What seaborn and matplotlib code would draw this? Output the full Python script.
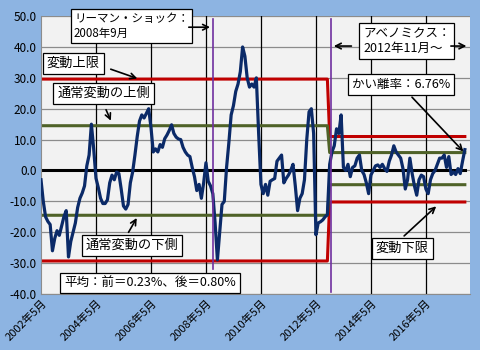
import numpy as np
import pandas as pd
import seaborn as sns
import matplotlib.pyplot as plt
from matplotlib.patches import Rectangle

plt.rcParams['font.family'] = ['Noto Sans CJK JP', 'DejaVu Sans']

# monthly deviation rate (%), 2002/5 .. 2017/10
START = "2002-05"
VALUES = [
    -3, -10, -15, -16.5, -17.5, -26, -22, -19.5, -21, -18,
    -15, -13, -28, -23, -20, -17, -12, -9, -7.3, -5,
    1.5, 5, 15, 7, -2.5, -5.5, -9, -10.7, -10.7, -9.5,
    -4, -1.5, -3, -0.5, -1, -6, -11.5, -12.5, -11, -4,
    -0.5, 5, 11, 16, 18, 17, 18.5, 20, 14, 6,
    7, 6, 8.4, 7.5, 10.3, 11.5, 13, 14.8, 12, 10.8,
    10.2, 10, 7.5, 6, 5, 4.5, 1, -2, -6.5, -4.5,
    -9, -4, 2.5, -3.5, -5, -7.5, -17, -29, -20, -11,
    -10, 1, 9, 18, 21, 25.6, 28, 32, 40, 37,
    30, 27, 28, 27, 30, 12, -4.5, -7.5, -4.5, -8,
    -3.5, -3, -2.6, 3, 4, 5, -4, -2.6, -1.5, 0,
    2, -5, -13, -9, -7.5, -3, 10, 19, 20, 12,
    -20.8, -17, -16.6, -16, -15, -14.3, 2, 6, 8, 13.5,
    12, 18, 1, 0, 2, -2, 1, 1.5, 4, 5,
    0, -1.3, -4, -7.5, -1.5, 0, 1.5, 1.8, 1, 2,
    0.6, -0.3, 3, 5, 8, 6, 5, 4, 0.6, -6,
    -3, 4, -1, -5, -8, -3, -1.5, -2, -6, -7.5,
    -3, -1, 0, 2, 4, 4, 5, 1, 4.5, -1.3,
    -0.5, -1.3, 0.6, -1, 3, 6.76,
]

# band levels before / after Abenomics
BEFORE_LEVELS = {"upper_lim": 29.6, "upper": 14.5, "lower": -14.5, "lower_lim": -29.3}
AFTER_LEVELS = {"upper_lim": 11.0, "upper": 5.8, "lower": -4.6, "lower_lim": -10.2}
LEHMAN = "2008-09"
ABENOMICS = "2012-11"

TICK_LABELS = ["2002年5月", "2004年5月", "2006年5月", "2008年5月",
               "2010年5月", "2012年5月", "2014年5月", "2016年5月"]

months = pd.period_range(START, periods=len(VALUES), freq="M")
idx = np.arange(len(VALUES))
lehman_i = (pd.Period(LEHMAN, "M") - months[0]).n
abe_i = (pd.Period(ABENOMICS, "M") - months[0]).n

df = pd.DataFrame({"i": idx, "rate": VALUES})
for k in BEFORE_LEVELS:
    df[k] = np.where(df.i < abe_i, BEFORE_LEVELS[k], AFTER_LEVELS[k])
df["zero"] = 0.0

BLUE_BG = "#8DB4E2"
fig = plt.figure(figsize=(4.8, 3.6), dpi=100, facecolor="white")
fig.patches.append(Rectangle((0, 10 / 360), 1, 1, transform=fig.transFigure,
                             fc=BLUE_BG, ec="none", zorder=-10))
ax = fig.add_axes([0.0854, 0.1833, 0.894, 0.772])
ax.set_facecolor("#F2F2F2")

for y in range(-40, 51, 10):
    ax.axhline(y, color="#8C8C8C", lw=0.9, zorder=0)
for t in range(24, len(VALUES), 24):
    ax.axvline(t, color="black", lw=0.9, zorder=0)

sns.lineplot(data=df, x="i", y="upper_lim", color="#C00000", lw=2.2, ax=ax, zorder=2)
sns.lineplot(data=df, x="i", y="lower_lim", color="#C00000", lw=2.2, ax=ax, zorder=2)
sns.lineplot(data=df, x="i", y="upper", color="#4F6228", lw=2.2, ax=ax, zorder=2)
sns.lineplot(data=df, x="i", y="lower", color="#4F6228", lw=2.2, ax=ax, zorder=2)
sns.lineplot(data=df, x="i", y="zero", color="black", lw=2.2, ax=ax, zorder=2)
sns.lineplot(data=df, x="i", y="rate", color="#0B2A68", lw=2.3, ax=ax, zorder=4)

ax.plot([lehman_i - 0.8, lehman_i - 0.8], [49, -32], color="#7030A0", lw=1.2, zorder=5)
ax.plot([abe_i + 0.4, abe_i + 0.4], [49, -39.3], color="#7030A0", lw=1.2, zorder=5)

ax.set_xlim(0, 187.3)
ax.set_ylim(-40, 50)
ax.set_yticks(range(-40, 51, 10))
ax.set_yticklabels([f"{v:.1f}" for v in range(-40, 51, 10)], fontsize=8.5)
ax.set_xticks(range(0, len(VALUES), 24))
ax.set_xticklabels(TICK_LABELS, rotation=45, ha="right", rotation_mode="anchor", fontsize=8)
ax.tick_params(length=0, pad=3)
ax.set_xlabel("")
ax.set_ylabel("")
for s in ["top", "right"]:
    ax.spines[s].set_visible(False)
for s in ["left", "bottom"]:
    ax.spines[s].set_color("#8C8C8C")

box = dict(boxstyle="square,pad=0.3", fc="white", ec="black", lw=0.9)
arrow = dict(arrowstyle="->", color="black", lw=1.2)
fs = 9.5

def note(text, x, y, ha="center", size=fs):
    ax.text(x, y, text, fontsize=size, ha=ha, va="center", bbox=box, zorder=6,
            clip_on=False, linespacing=1.2)

def arr(x0, y0, x1, y1, style=arrow):
    ax.annotate("", xy=(x1, y1), xytext=(x0, y0), arrowprops=style, zorder=6,
                annotation_clip=False)

note("リーマン・ショック：\n2008年9月", 14.4, 46.8, ha="left", size=8.3)
arr(63.3, 46.4, lehman_i - 1.0, 46.4)
note("変動上限", 14.0, 34.6)
arr(29.3, 33.1, 43.2, 29.5)
note("通常変動の上側", 27.3, 25.0)
arr(27.9, 20.5, 31.0, 15.3)
note("通常変動の下側", 39.7, -24.2)
arr(37.6, -20.8, 42.4, -14.6)
note("平均：前＝0.23%、後＝0.80%", 47.6, -36.4, size=9)
note("アベノミクス：\n2012年11月～", 140.6, 41.9, ha="left", size=9)
arr(136.7, 40.3, abe_i + 0.6, 40.3)
arr(177.7, 40.3, 186.9, 40.3)
note("かい離率：6.76%", 157.0, 27.8, size=9)
arr(161.1, 24.4, 185.2, 5.5)
note("変動下限", 157.6, -25.2)
arr(157.6, -21.8, 173.4, -11.0)

fig.savefig("out.png", dpi=100, facecolor="white")
